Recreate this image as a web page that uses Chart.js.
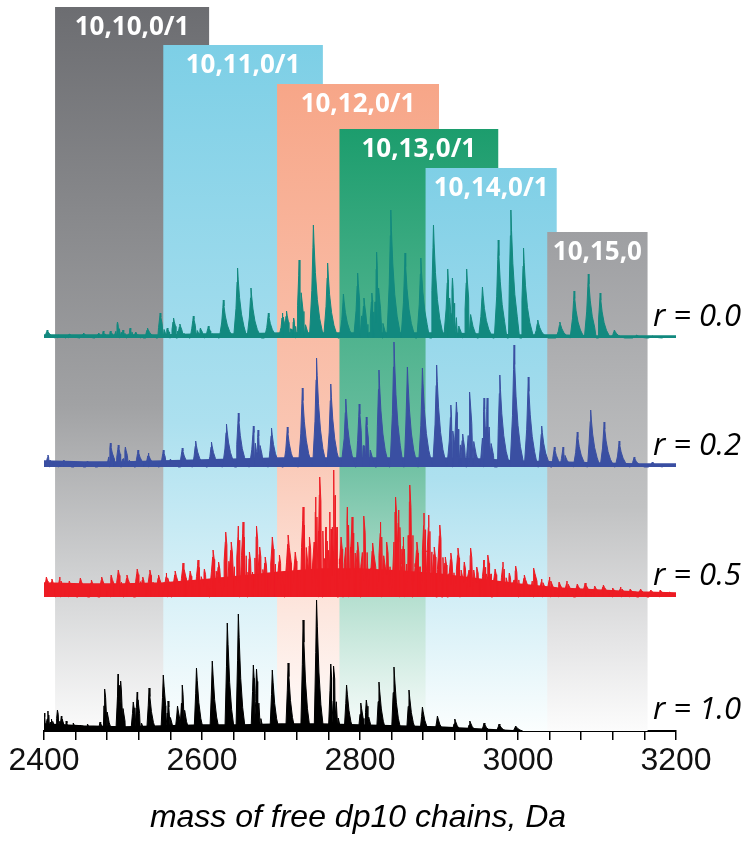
<!DOCTYPE html>
<html>
<head>
<meta charset="utf-8">
<script src="https://cdn.jsdelivr.net/npm/chart.js@4.4.0/dist/chart.umd.min.js"></script>
<style>
  html, body { margin: 0; padding: 0; background: #fff; }
  #wrap { width: 754px; height: 843px; }
</style>
</head>
<body>
<div id="wrap"><canvas id="chart" width="754" height="843"></canvas></div>
<script>
// x axis
const tickLabels = ['2400', '2600', '2800', '3000', '3200'];
const axisTitle = 'mass of free dp10 chains, Da';

// composition bands
const bandLabels = ['10,10,0/1', '10,11,0/1', '10,12,0/1', '10,13,0/1', '10,14,0/1', '10,15,0'];
const bandFrom = [2414, 2551, 2695, 2774, 2883, 3037];
const bandTo = [2609, 2753, 2900, 2975, 3049, 3164];

// spectra: peak masses (Da) and heights (arbitrary units)
const traceLabels = ['r = 0.0', 'r = 0.2', 'r = 0.5', 'r = 1.0'];

const tealMass = [2404, 2418, 2432, 2450, 2469, 2475, 2484, 2493, 2500, 2509, 2516, 2531, 2547, 2556, 2564, 2572, 2589, 2598, 2608, 2627, 2645, 2662, 2684, 2702, 2707, 2716, 2723, 2741, 2759, 2779, 2797, 2805, 2815, 2821, 2839, 2857, 2877, 2893, 2911, 2917, 2925, 2935, 2955, 2975, 2991, 3007, 3025, 3053, 3071, 3089, 3104, 3122, 3150, 3170];
const tealInt  = [8, 3, 4, 5, 5, 7, 7, 16, 8, 10, 6, 10, 25, 10, 20, 14, 22, 10, 12, 38, 70, 50, 25, 25, 27, 20, 78, 113, 75, 44, 65, 40, 45, 86, 128, 85, 80, 113, 69, 60, 12, 69, 51, 98, 128, 90, 18, 16, 47, 64, 45, 8, 3, 2];

const blueMass = [2405, 2412, 2425, 2440, 2455, 2470, 2484, 2494, 2503, 2519, 2532, 2551, 2560, 2575, 2592, 2612, 2631, 2646, 2665, 2671, 2688, 2708, 2727, 2745, 2763, 2782, 2799, 2808, 2824, 2843, 2860, 2879, 2897, 2915, 2922, 2930, 2939, 2957, 2961, 2977, 2995, 3013, 3030, 3046, 3057, 3075, 3092, 3109, 3128, 3147, 3170];
const blueInt  = [12, 6, 7, 5, 6, 5, 24, 22, 20, 17, 14, 17, 8, 19, 26, 25, 43, 54, 41, 37, 39, 40, 79, 109, 83, 68, 63, 50, 97, 125, 100, 99, 102, 62, 65, 33, 75, 69, 69, 92, 122, 90, 41, 20, 20, 35, 57, 45, 26, 10, 5];

const redMass = [2403, 2410, 2420, 2432, 2446, 2460, 2473, 2485, 2494, 2505, 2518, 2525, 2534, 2545, 2555, 2566, 2576, 2585, 2595, 2603, 2614, 2621, 2630, 2637, 2646, 2652, 2660, 2669, 2673, 2680, 2689, 2698, 2709, 2718, 2728, 2736, 2744, 2749, 2757, 2762, 2767, 2776, 2784, 2790, 2797, 2805, 2816, 2826, 2834, 2845, 2849, 2855, 2863, 2872, 2881, 2887, 2894, 2901, 2908, 2915, 2924, 2932, 2940, 2948, 2957, 2962, 2971, 2981, 2989, 2997, 3008, 3020, 3030, 3040, 3052, 3062, 3075, 3085, 3097, 3108, 3120, 3130, 3142, 3155, 3168, 3180, 3192];
const redInt  = [20, 18, 20, 16, 19, 17, 20, 22, 27, 22, 28, 20, 27, 22, 24, 26, 34, 26, 37, 28, 47, 35, 65, 55, 71, 75, 45, 71, 50, 40, 60, 42, 62, 45, 90, 60, 100, 120, 70, 85, 127, 60, 90, 80, 55, 81, 54, 75, 55, 100, 87, 60, 112, 55, 84, 82, 50, 72, 40, 44, 49, 35, 49, 30, 37, 42, 28, 35, 24, 31, 22, 29, 18, 20, 15, 16, 13, 14, 11, 12, 9, 10, 8, 8, 7, 7, 5];

const blackMass = [2400, 2405, 2410, 2417, 2422, 2428, 2437, 2446, 2455, 2466, 2471, 2477, 2494, 2497, 2513, 2518, 2533, 2551, 2557, 2569, 2575, 2593, 2613, 2632, 2646, 2665, 2669, 2689, 2709, 2728, 2745, 2763, 2767, 2783, 2801, 2808, 2824, 2843, 2862, 2879, 2898, 2920, 2939, 2957, 2976, 2997];
const blackInt  = [18, 20, 12, 21, 15, 10, 8, 6, 7, 5, 9, 42, 57, 50, 29, 39, 43, 56, 30, 25, 46, 63, 70, 108, 117, 66, 62, 61, 68, 111, 131, 67, 65, 46, 28, 31, 49, 64, 41, 24, 15, 12, 10, 8, 7, 5];

// noise floor, sampled every 50 Da
const floorMass  = [2400, 2450, 2500, 2550, 2600, 2650, 2700, 2750, 2800, 2850, 2900, 2950, 3000, 3050, 3100, 3150, 3200];
const tealFloor  = [3, 3, 3, 3, 4, 4, 5, 5, 5, 5, 5, 4, 3, 3, 2, 2, 2];
const blueFloor  = [6, 5, 5, 6, 7, 8, 9, 9, 9, 9, 9, 8, 6, 5, 4, 3, 3];
const redFloor   = [14, 13, 13, 14, 17, 21, 25, 28, 28, 26, 23, 18, 13, 9, 7, 5, 4];
const blackFloor = [7, 5, 4, 5, 6, 6, 7, 7, 6, 5, 4, 2, 0];

// peak profile (offset in Da, fraction of height) per trace
const wideShape = [[-5, 0], [-2, 0.42], [-0.6, 0.8], [0, 1], [0.8, 0.84], [2.5, 0.58], [5, 0.34], [8, 0.17], [13, 0]];
const redShape = [[-5, 0], [-2, 0.55], [-0.5, 0.85], [0, 1], [1.5, 0.8], [4, 0.55], [7, 0.3], [11, 0]];
const thinShape = [[-3, 0], [-1, 0.6], [0, 1], [1, 0.8], [3, 0.45], [5.5, 0.2], [9, 0]];

const traces = [
    { mass: tealMass, inten: tealInt, floor: tealFloor, off: 393, color: '#12897f', shape: wideShape },
    { mass: blueMass, inten: blueInt, floor: blueFloor, off: 264, color: '#3a4fa2', shape: wideShape },
    { mass: redMass, inten: redInt, floor: redFloor, off: 134, color: '#ed1c24', shape: redShape },
    { mass: blackMass, inten: blackInt, floor: blackFloor, off: 0, color: '#000000', shape: thinShape }
];

const bandStyle = [
    { top: 7,   rgb: [108, 109, 113] },
    { top: 45,  rgb: [125, 207, 230] },
    { top: 84,  rgb: [247, 166, 136] },
    { top: 129, rgb: [28, 157, 109] },
    { top: 168, rgb: [127, 207, 230] },
    { top: 232, rgb: [158, 159, 162] }
];

function spikes(t) {
    const pts = [];
    t.mass.forEach((m, i) => {
        const h = t.inten[i];
        t.shape.forEach(([dx, f]) => pts.push({ x: m + dx, y: t.off + h * f }));
    });
    return pts.sort((a, b) => a.x - b.x);
}

function mix(rgb, a) {
    // opaque blend of the colour with white
    const c = rgb.map(v => Math.round(255 - a * (255 - v)));
    return `rgb(${c[0]},${c[1]},${c[2]})`;
}

const datasets = [];
traces.forEach(t => {
    datasets.push({
        data: spikes(t),
        borderColor: t.color,
        backgroundColor: t.color,
        borderWidth: 1,
        pointRadius: 0,
        tension: 0,
        fill: { value: t.off }
    });
    datasets.push({
        data: t.floor.map((v, i) => ({ x: floorMass[i], y: t.off + v })),
        borderColor: t.color,
        backgroundColor: t.color,
        borderWidth: 1.5,
        pointRadius: 0,
        tension: 0,
        fill: { value: t.off }
    });
});

const bandsPlugin = {
    id: 'bands',
    beforeDatasetsDraw(chart) {
        const { ctx, scales: { x, y } } = chart;
        const bottom = y.getPixelForValue(0);
        ctx.save();
        bandLabels.forEach((lab, i) => {
            const st = bandStyle[i];
            const x0 = x.getPixelForValue(bandFrom[i]);
            const x1 = x.getPixelForValue(bandTo[i]);
            const g = ctx.createLinearGradient(0, st.top, 0, bottom);
            g.addColorStop(0, mix(st.rgb, 1));
            g.addColorStop(0.55, mix(st.rgb, 0.64));
            g.addColorStop(0.82, mix(st.rgb, 0.27));
            g.addColorStop(1, mix(st.rgb, 0.03));
            ctx.fillStyle = g;
            ctx.fillRect(x0, st.top, x1 - x0, bottom - st.top);
        });
        ctx.fillStyle = '#ffffff';
        ctx.font = 'bold 26px "Open Sans"';
        ctx.textAlign = 'center';
        ctx.textBaseline = 'middle';
        bandLabels.forEach((lab, i) => {
            const x0 = x.getPixelForValue(bandFrom[i]);
            const x1 = x.getPixelForValue(bandTo[i]);
            ctx.fillText(lab, (x0 + x1) / 2, bandStyle[i].top + 21);
        });
        ctx.restore();
    },
    afterDraw(chart) {
        const { ctx, scales: { x, y }, chartArea } = chart;
        ctx.save();
        ctx.fillStyle = '#000';
        ctx.font = 'italic 31px "Open Sans"';
        ctx.textAlign = 'left';
        ctx.textBaseline = 'alphabetic';
        traceLabels.forEach((lab, i) => {
            ctx.fillText(lab, 653, y.getPixelForValue(traces[i].off) - 12);
        });
        ctx.font = 'italic 32px "Liberation Sans"';
        ctx.textAlign = 'center';
        ctx.fillText(axisTitle, (chartArea.left + chartArea.right) / 2 - 2, 827);
        ctx.restore();
    }
};

new Chart(document.getElementById('chart'), {
    type: 'line',
    data: { datasets },
    options: {
        responsive: false,
        animation: false,
        devicePixelRatio: 1,
        layout: { padding: { left: 44, right: 78, top: 7, bottom: 0 } },
        plugins: { legend: { display: false }, tooltip: { enabled: false } },
        scales: {
            x: {
                type: 'linear',
                min: 2400,
                max: 3200,
                afterFit: s => { s.height = 112; },
                ticks: {
                    stepSize: 40,
                    autoSkip: false,
                    maxRotation: 0,
                    padding: 2,
                    color: '#111',
                    font: { family: '"Liberation Sans"', size: 32 },
                    callback: v => {
                        const lab = tickLabels.find(t => Number(t) === v);
                        return lab || '';
                    }
                },
                grid: { drawOnChartArea: false, drawTicks: true, tickLength: 9, color: '#000', lineWidth: 1.5 },
                border: { display: true, color: '#000', width: 2 }
            },
            y: {
                type: 'linear',
                min: 0,
                max: 724,
                display: false
            }
        }
    },
    plugins: [bandsPlugin]
});
</script>
</body>
</html>
